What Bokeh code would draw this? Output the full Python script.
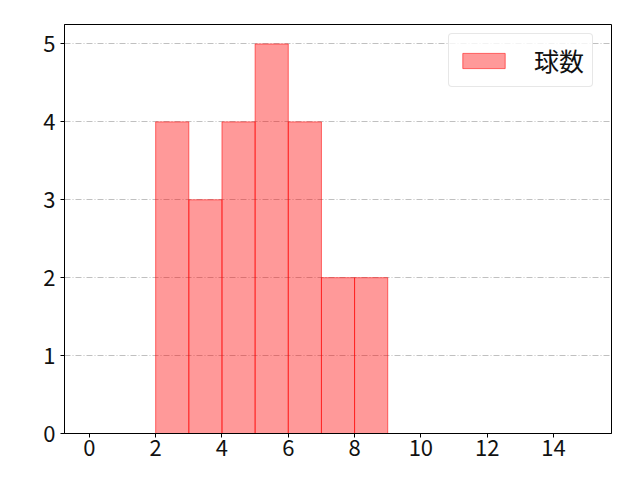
from bokeh.plotting import figure
from bokeh.models import ColumnDataSource, Range1d, Legend, LegendItem, FixedTicker
from bokeh.embed import file_html
from bokeh.resources import INLINE

bin_left = [2, 3, 4, 5, 6, 7, 8]
bin_right = [3, 4, 5, 6, 7, 8, 9]
counts = [4, 3, 4, 5, 4, 2, 2]
x_ticks = [0, 2, 4, 6, 8, 10, 12, 14]
y_ticks = [0, 1, 2, 3, 4, 5]
series_name = "球数"

FONT = "Noto Sans CJK JP"

src = ColumnDataSource(dict(left=bin_left, right=bin_right, top=counts, bottom=[0] * len(counts)))

p = figure(width=624, height=464, output_backend="svg", toolbar_location=None,
           x_range=Range1d(-0.75, 15.75), y_range=Range1d(0, 5.25),
           min_border_left=64, min_border_top=24, min_border_right=13, min_border_bottom=31)

r = p.quad(left="left", right="right", top="top", bottom="bottom", source=src,
           fill_color="red", fill_alpha=0.4, line_color="red", line_alpha=0.55, line_width=1)

p.xgrid.grid_line_color = None
p.ygrid.grid_line_color = "#b0b0b0"
p.ygrid.grid_line_dash = "6 2 1 2"
p.ygrid.grid_line_width = 0.8

p.outline_line_color = "black"
p.outline_line_width = 1
p.background_fill_color = "white"

for ax in (p.xaxis[0], p.yaxis[0]):
    ax.axis_line_color = "black"
    ax.major_tick_line_color = "black"
    ax.major_tick_out = 4
    ax.major_tick_in = 0
    ax.minor_tick_line_color = None
    ax.major_label_text_font = FONT
    ax.major_label_text_font_size = "22px"
    ax.major_label_text_font_style = "normal"
    ax.major_label_text_color = "#111111"

p.xaxis[0].ticker = FixedTicker(ticks=x_ticks)
p.yaxis[0].ticker = FixedTicker(ticks=y_ticks)
p.xaxis[0].major_label_standoff = 2
p.yaxis[0].major_label_standoff = 5

legend = Legend(items=[LegendItem(label=series_name, renderers=[r])],
                location=(384, 346), orientation="vertical")
legend.label_text_font = FONT
legend.label_text_font_size = "25px"
legend.label_text_color = "#111111"
legend.glyph_width = 53
legend.glyph_height = 19
legend.label_standoff = 24
legend.padding = 8
legend.margin = 0
legend.border_line_color = "#d0d0d0"
legend.border_line_width = 1
legend.background_fill_alpha = 0.8
try:
    legend.border_radius = 4
except Exception:
    pass
p.add_layout(legend, "center")

open("out.html", "w").write(file_html(p, INLINE))
